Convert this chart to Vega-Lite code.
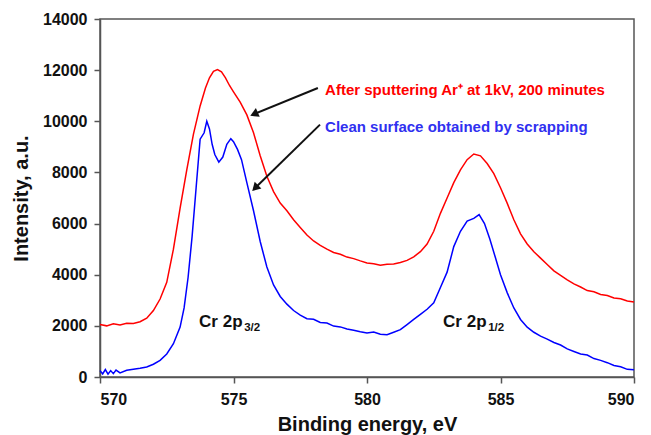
{
  "$schema": "https://vega.github.io/schema/vega-lite/v6.json",
  "autosize": {"type": "none"},
  "width": 534,
  "height": 358,
  "padding": {"left": 100, "top": 19, "right": 17, "bottom": 58},
  "background": "white",
  "view": {"stroke": "#555", "strokeWidth": 1.5},
  "config": {
    "font": "Liberation Sans",
    "axis": {
      "labelFont": "Liberation Sans", "labelFontWeight": "bold", "labelFontSize": 16, "labelColor": "#111",
      "titleFont": "Liberation Sans", "titleFontWeight": "bold", "titleFontSize": 20, "titleColor": "#111",
      "domainColor": "#555", "domainWidth": 1.5, "tickColor": "#555", "tickWidth": 1.5, "tickSize": 6, "grid": false
    }
  },
  "datasets": {
    "spectra": [
      {"E": 570.0, "I": 2050, "s": "red"}, {"E": 570.25, "I": 2000, "s": "red"}, {"E": 570.5, "I": 2080, "s": "red"},
      {"E": 570.75, "I": 2030, "s": "red"}, {"E": 571.0, "I": 2100, "s": "red"}, {"E": 571.25, "I": 2090, "s": "red"},
      {"E": 571.5, "I": 2160, "s": "red"}, {"E": 571.75, "I": 2300, "s": "red"}, {"E": 572.0, "I": 2600, "s": "red"},
      {"E": 572.25, "I": 3050, "s": "red"}, {"E": 572.5, "I": 3700, "s": "red"}, {"E": 572.75, "I": 5000, "s": "red"},
      {"E": 573.0, "I": 6600, "s": "red"}, {"E": 573.25, "I": 8100, "s": "red"}, {"E": 573.5, "I": 9500, "s": "red"},
      {"E": 573.75, "I": 10600, "s": "red"}, {"E": 573.95, "I": 11300, "s": "red"}, {"E": 574.1, "I": 11700, "s": "red"},
      {"E": 574.25, "I": 11950, "s": "red"}, {"E": 574.4, "I": 12020, "s": "red"}, {"E": 574.55, "I": 11930, "s": "red"},
      {"E": 574.7, "I": 11700, "s": "red"}, {"E": 574.85, "I": 11400, "s": "red"},
      {"E": 575.0, "I": 11150, "s": "red"}, {"E": 575.25, "I": 10750, "s": "red"}, {"E": 575.5, "I": 10250, "s": "red"},
      {"E": 575.75, "I": 9550, "s": "red"}, {"E": 576.0, "I": 8650, "s": "red"}, {"E": 576.25, "I": 7850, "s": "red"},
      {"E": 576.5, "I": 7250, "s": "red"}, {"E": 576.75, "I": 6800, "s": "red"}, {"E": 577.0, "I": 6500, "s": "red"},
      {"E": 577.25, "I": 6150, "s": "red"}, {"E": 577.5, "I": 5850, "s": "red"}, {"E": 577.75, "I": 5550, "s": "red"},
      {"E": 578.0, "I": 5320, "s": "red"}, {"E": 578.25, "I": 5150, "s": "red"}, {"E": 578.5, "I": 5000, "s": "red"},
      {"E": 578.75, "I": 4870, "s": "red"}, {"E": 579.0, "I": 4800, "s": "red"}, {"E": 579.25, "I": 4690, "s": "red"},
      {"E": 579.5, "I": 4630, "s": "red"}, {"E": 579.75, "I": 4540, "s": "red"}, {"E": 580.0, "I": 4460, "s": "red"},
      {"E": 580.25, "I": 4430, "s": "red"}, {"E": 580.5, "I": 4370, "s": "red"}, {"E": 580.75, "I": 4410, "s": "red"},
      {"E": 581.0, "I": 4420, "s": "red"}, {"E": 581.25, "I": 4480, "s": "red"}, {"E": 581.5, "I": 4560, "s": "red"},
      {"E": 581.75, "I": 4700, "s": "red"}, {"E": 582.0, "I": 4900, "s": "red"}, {"E": 582.25, "I": 5200, "s": "red"},
      {"E": 582.5, "I": 5700, "s": "red"}, {"E": 582.75, "I": 6400, "s": "red"}, {"E": 583.0, "I": 7000, "s": "red"},
      {"E": 583.25, "I": 7600, "s": "red"}, {"E": 583.5, "I": 8100, "s": "red"}, {"E": 583.75, "I": 8500, "s": "red"},
      {"E": 584.0, "I": 8720, "s": "red"}, {"E": 584.25, "I": 8650, "s": "red"}, {"E": 584.5, "I": 8350, "s": "red"},
      {"E": 584.75, "I": 7950, "s": "red"}, {"E": 585.0, "I": 7400, "s": "red"}, {"E": 585.25, "I": 6800, "s": "red"},
      {"E": 585.5, "I": 6150, "s": "red"}, {"E": 585.75, "I": 5600, "s": "red"}, {"E": 586.0, "I": 5200, "s": "red"},
      {"E": 586.25, "I": 4900, "s": "red"}, {"E": 586.5, "I": 4650, "s": "red"}, {"E": 586.75, "I": 4400, "s": "red"},
      {"E": 587.0, "I": 4150, "s": "red"}, {"E": 587.25, "I": 3970, "s": "red"}, {"E": 587.5, "I": 3800, "s": "red"},
      {"E": 587.75, "I": 3640, "s": "red"}, {"E": 588.0, "I": 3520, "s": "red"}, {"E": 588.25, "I": 3380, "s": "red"},
      {"E": 588.5, "I": 3330, "s": "red"}, {"E": 588.75, "I": 3230, "s": "red"}, {"E": 589.0, "I": 3190, "s": "red"},
      {"E": 589.25, "I": 3090, "s": "red"}, {"E": 589.5, "I": 3060, "s": "red"}, {"E": 589.75, "I": 2970, "s": "red"},
      {"E": 590.0, "I": 2930, "s": "red"},

      {"E": 570.0, "I": 250, "s": "blue"}, {"E": 570.1, "I": 120, "s": "blue"}, {"E": 570.2, "I": 290, "s": "blue"},
      {"E": 570.3, "I": 110, "s": "blue"}, {"E": 570.4, "I": 250, "s": "blue"}, {"E": 570.5, "I": 130, "s": "blue"},
      {"E": 570.6, "I": 270, "s": "blue"}, {"E": 570.75, "I": 160, "s": "blue"}, {"E": 571.0, "I": 260, "s": "blue"},
      {"E": 571.25, "I": 300, "s": "blue"}, {"E": 571.5, "I": 340, "s": "blue"}, {"E": 571.75, "I": 390, "s": "blue"},
      {"E": 572.0, "I": 500, "s": "blue"}, {"E": 572.25, "I": 650, "s": "blue"}, {"E": 572.5, "I": 900, "s": "blue"},
      {"E": 572.75, "I": 1300, "s": "blue"}, {"E": 573.0, "I": 1950, "s": "blue"}, {"E": 573.15, "I": 2700, "s": "blue"},
      {"E": 573.3, "I": 3900, "s": "blue"}, {"E": 573.45, "I": 5500, "s": "blue"}, {"E": 573.6, "I": 7400, "s": "blue"},
      {"E": 573.75, "I": 9300, "s": "blue"}, {"E": 573.9, "I": 9550, "s": "blue"}, {"E": 574.0, "I": 10000, "s": "blue"},
      {"E": 574.1, "I": 9700, "s": "blue"}, {"E": 574.2, "I": 9100, "s": "blue"}, {"E": 574.3, "I": 8700, "s": "blue"},
      {"E": 574.45, "I": 8400, "s": "blue"}, {"E": 574.6, "I": 8600, "s": "blue"}, {"E": 574.75, "I": 9100, "s": "blue"},
      {"E": 574.9, "I": 9320, "s": "blue"}, {"E": 575.0, "I": 9200, "s": "blue"}, {"E": 575.15, "I": 8900, "s": "blue"},
      {"E": 575.3, "I": 8500, "s": "blue"}, {"E": 575.5, "I": 7600, "s": "blue"}, {"E": 575.75, "I": 6500, "s": "blue"},
      {"E": 576.0, "I": 5300, "s": "blue"}, {"E": 576.25, "I": 4300, "s": "blue"}, {"E": 576.5, "I": 3600, "s": "blue"},
      {"E": 576.75, "I": 3150, "s": "blue"}, {"E": 577.0, "I": 2850, "s": "blue"}, {"E": 577.25, "I": 2600, "s": "blue"},
      {"E": 577.5, "I": 2420, "s": "blue"}, {"E": 577.75, "I": 2280, "s": "blue"}, {"E": 578.0, "I": 2260, "s": "blue"},
      {"E": 578.25, "I": 2130, "s": "blue"}, {"E": 578.5, "I": 2110, "s": "blue"}, {"E": 578.75, "I": 1990, "s": "blue"},
      {"E": 579.0, "I": 1960, "s": "blue"}, {"E": 579.25, "I": 1880, "s": "blue"}, {"E": 579.5, "I": 1830, "s": "blue"},
      {"E": 579.75, "I": 1770, "s": "blue"}, {"E": 580.0, "I": 1720, "s": "blue"}, {"E": 580.25, "I": 1760, "s": "blue"},
      {"E": 580.5, "I": 1670, "s": "blue"}, {"E": 580.75, "I": 1650, "s": "blue"}, {"E": 581.0, "I": 1750, "s": "blue"},
      {"E": 581.25, "I": 1850, "s": "blue"}, {"E": 581.5, "I": 2050, "s": "blue"}, {"E": 581.75, "I": 2250, "s": "blue"},
      {"E": 582.0, "I": 2450, "s": "blue"}, {"E": 582.25, "I": 2650, "s": "blue"}, {"E": 582.5, "I": 2900, "s": "blue"},
      {"E": 582.75, "I": 3500, "s": "blue"}, {"E": 583.0, "I": 4100, "s": "blue"}, {"E": 583.25, "I": 5100, "s": "blue"},
      {"E": 583.5, "I": 5700, "s": "blue"}, {"E": 583.75, "I": 6100, "s": "blue"}, {"E": 584.0, "I": 6200, "s": "blue"},
      {"E": 584.2, "I": 6350, "s": "blue"}, {"E": 584.4, "I": 6000, "s": "blue"}, {"E": 584.6, "I": 5400, "s": "blue"},
      {"E": 584.8, "I": 4700, "s": "blue"}, {"E": 585.0, "I": 4000, "s": "blue"}, {"E": 585.25, "I": 3300, "s": "blue"},
      {"E": 585.5, "I": 2700, "s": "blue"}, {"E": 585.75, "I": 2250, "s": "blue"}, {"E": 586.0, "I": 1950, "s": "blue"},
      {"E": 586.25, "I": 1750, "s": "blue"}, {"E": 586.5, "I": 1600, "s": "blue"}, {"E": 586.75, "I": 1480, "s": "blue"},
      {"E": 587.0, "I": 1350, "s": "blue"}, {"E": 587.25, "I": 1250, "s": "blue"}, {"E": 587.5, "I": 1100, "s": "blue"},
      {"E": 587.75, "I": 1000, "s": "blue"}, {"E": 588.0, "I": 900, "s": "blue"}, {"E": 588.25, "I": 860, "s": "blue"},
      {"E": 588.5, "I": 720, "s": "blue"}, {"E": 588.75, "I": 650, "s": "blue"}, {"E": 589.0, "I": 560, "s": "blue"},
      {"E": 589.25, "I": 450, "s": "blue"}, {"E": 589.5, "I": 400, "s": "blue"}, {"E": 589.75, "I": 300, "s": "blue"},
      {"E": 590.0, "I": 280, "s": "blue"}
    ],
    "arrows": [
      {"id": 1, "x1": 578.16, "y1": 11300, "x2": 575.77, "y2": 10280},
      {"id": 2, "x1": 578.24, "y1": 9870, "x2": 575.81, "y2": 7390}
    ],
    "notes": [
      {"t": "After sputtering Ar⁺ at 1kV, 200 minutes", "x": 578.43, "y": 11220, "s": "red"},
      {"t": "Clean surface obtained by scrapping", "x": 578.43, "y": 9790, "s": "blue"}
    ],
    "labels": [
      {"t": "Cr 2p", "x": 573.71, "y": 1955},
      {"t": "Cr 2p", "x": 582.85, "y": 1955}
    ],
    "subs": [
      {"t": "3/2", "x": 575.4, "y": 1790},
      {"t": "1/2", "x": 584.54, "y": 1790}
    ]
  },
  "layer": [
    {
      "data": {"name": "spectra"},
      "mark": {"type": "line", "strokeWidth": 1.5},
      "encoding": {
        "x": {"field": "E", "type": "quantitative", "scale": {"domain": [570, 590], "nice": false},
              "axis": {"values": [570, 575, 580, 585, 590], "title": "Binding energy, eV", "labelPadding": 8, "titlePadding": 7}},
        "y": {"field": "I", "type": "quantitative", "scale": {"domain": [0, 14000], "nice": false},
              "axis": {"values": [0, 2000, 4000, 6000, 8000, 10000, 12000, 14000], "title": "Intensity, a.u.", "labelPadding": 7, "titlePadding": 11, "format": "d"}},
        "color": {"field": "s", "type": "nominal", "scale": {"domain": ["red", "blue"], "range": ["#ff0000", "#0000ff"]}, "legend": null},
        "detail": {"field": "s"}
      }
    },
    {
      "data": {"name": "arrows"},
      "mark": {"type": "rule", "strokeWidth": 2, "color": "#111"},
      "encoding": {
        "x": {"field": "x1", "type": "quantitative"},
        "y": {"field": "y1", "type": "quantitative"},
        "x2": {"field": "x2"},
        "y2": {"field": "y2"}
      }
    },
    {
      "data": {"name": "arrows"},
      "transform": [{"filter": "datum.id == 1"}],
      "mark": {"type": "point", "shape": "triangle-up", "filled": true, "color": "#111", "size": 90, "angle": 246, "opacity": 1},
      "encoding": {
        "x": {"field": "x2", "type": "quantitative"},
        "y": {"field": "y2", "type": "quantitative"}
      }
    },
    {
      "data": {"name": "arrows"},
      "transform": [{"filter": "datum.id == 2"}],
      "mark": {"type": "point", "shape": "triangle-up", "filled": true, "color": "#111", "size": 90, "angle": 225, "opacity": 1},
      "encoding": {
        "x": {"field": "x2", "type": "quantitative"},
        "y": {"field": "y2", "type": "quantitative"}
      }
    },
    {
      "data": {"name": "notes"},
      "mark": {"type": "text", "align": "left", "baseline": "middle", "fontSize": 15, "fontWeight": "bold", "font": "Liberation Sans"},
      "encoding": {
        "x": {"field": "x", "type": "quantitative"},
        "y": {"field": "y", "type": "quantitative"},
        "text": {"field": "t"},
        "color": {"field": "s", "type": "nominal", "scale": {"domain": ["red", "blue"], "range": ["#ff0000", "#3030f0"]}, "legend": null}
      }
    },
    {
      "data": {"name": "labels"},
      "mark": {"type": "text", "align": "left", "baseline": "alphabetic", "fontSize": 17, "fontWeight": "bold", "font": "Liberation Sans", "color": "#111"},
      "encoding": {
        "x": {"field": "x", "type": "quantitative"},
        "y": {"field": "y", "type": "quantitative"},
        "text": {"field": "t"}
      }
    },
    {
      "data": {"name": "subs"},
      "mark": {"type": "text", "align": "left", "baseline": "alphabetic", "fontSize": 11.5, "fontWeight": "bold", "font": "Liberation Sans", "color": "#111"},
      "encoding": {
        "x": {"field": "x", "type": "quantitative"},
        "y": {"field": "y", "type": "quantitative"},
        "text": {"field": "t"}
      }
    }
  ],
  "resolve": {"scale": {"color": "independent"}}
}
